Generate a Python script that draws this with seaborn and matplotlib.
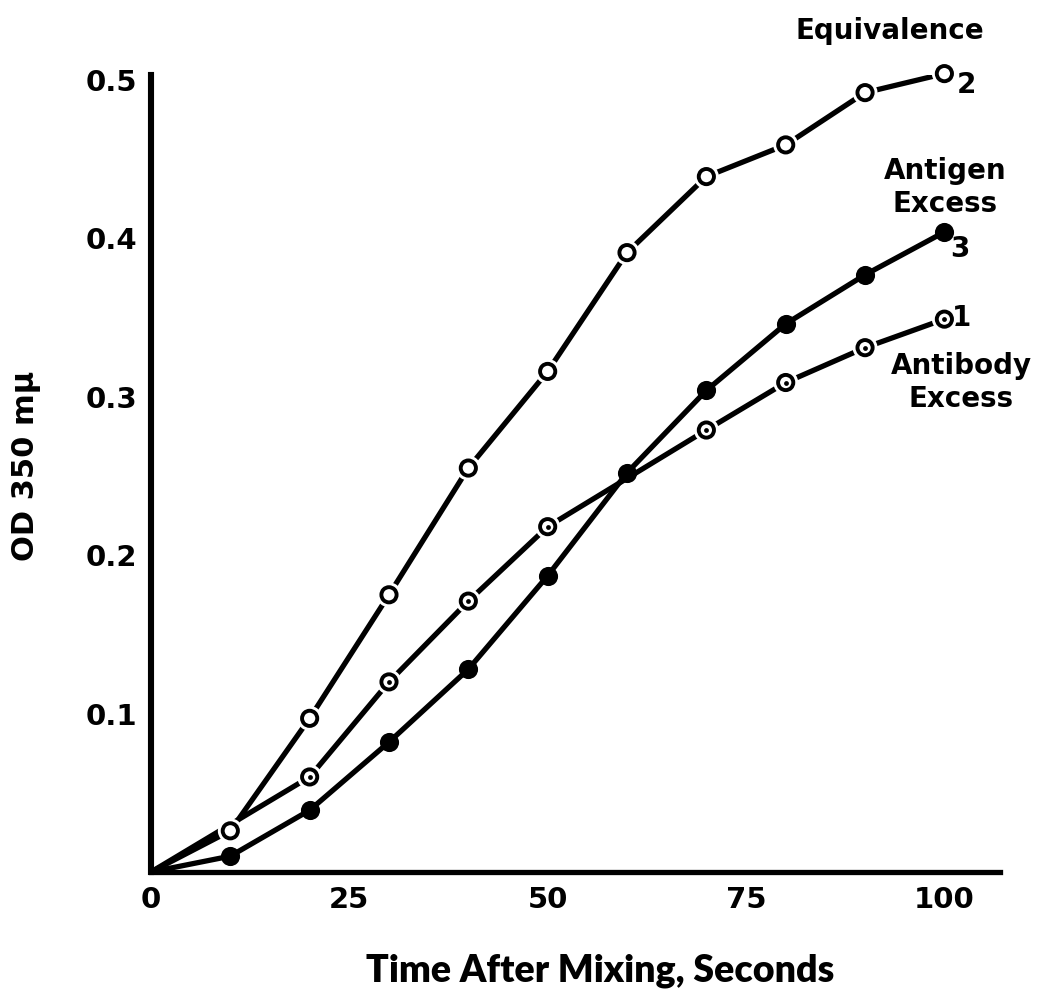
import numpy as np
import pandas as pd
import matplotlib
matplotlib.use("Agg")
import matplotlib.pyplot as plt
import matplotlib.patheffects as pe
import seaborn as sns

# ---- data ----
time_eq = [10, 20, 30, 40, 50, 60, 70, 80, 90, 100]
od_eq = [0.026, 0.097, 0.175, 0.255, 0.316, 0.391, 0.439, 0.459, 0.492, 0.504]

time_ab = [20, 30, 40, 50, 70, 80, 90, 100]
od_ab = [0.060, 0.120, 0.171, 0.218, 0.279, 0.309, 0.331, 0.349]

time_ag = [10, 20, 30, 40, 50, 60, 70, 80, 90, 100]
od_ag = [0.010, 0.039, 0.082, 0.128, 0.187, 0.252, 0.304, 0.346, 0.377, 0.404]

origin_t = [0]
origin_od = [0.0]

x_ticks = [0, 25, 50, 75, 100]
y_ticks = [0.1, 0.2, 0.3, 0.4, 0.5]
y_tick_labels = ["0.1", "0.2", "0.3", "0.4", "0.5"]

sns.set_theme(style="white")
plt.rcParams["font.family"] = ["DejaVu Sans"]

fig = plt.figure(figsize=(10.52, 9.96), dpi=100)
ax = fig.add_axes([0.1435, 0.1245, 0.807, 0.800])

def curve_df(t, od):
    return pd.DataFrame({"t": origin_t + list(t), "od": origin_od + list(od)})

for t, od in [(time_eq, od_eq), (time_ab, od_ab), (time_ag, od_ag)]:
    sns.lineplot(data=curve_df(t, od), x="t", y="od", estimator=None, sort=False,
                 color="black", lw=3.8, ax=ax, solid_joinstyle="round",
                 solid_capstyle="round")

halo = [pe.withStroke(linewidth=7, foreground="white")]
# open circles (equivalence)
sc = ax.scatter(time_eq, od_eq, s=120, facecolor="white", edgecolor="black",
                linewidth=2.8, zorder=5, clip_on=False)
sc.set_path_effects(halo)
# open circles with centre mark (antibody excess)
sc = ax.scatter(time_ab, od_ab, s=120, facecolor="white", edgecolor="black",
                linewidth=2.8, zorder=5, clip_on=False)
sc.set_path_effects(halo)
ax.scatter(time_ab, od_ab, s=12, color="black", zorder=6, linewidth=0, clip_on=False)
# filled circles (antigen excess)
ax.scatter(time_ag, od_ag, s=190, color="black", zorder=5, linewidth=0, clip_on=False)

ax.set_xlim(0, 107)
ax.set_ylim(0, 0.503)
ax.set_xticks(x_ticks)
ax.set_xticklabels([str(v) for v in x_ticks])
ax.set_yticks(y_ticks)
ax.set_yticklabels(y_tick_labels)

for s in ["top", "right"]:
    ax.spines[s].set_visible(False)
ax.spines["left"].set_linewidth(4.4)
ax.spines["bottom"].set_linewidth(3.8)
ax.spines["left"].set_color("black")
ax.spines["bottom"].set_color("black")

ax.tick_params(axis="both", direction="in", length=9, width=2.4, color="black",
               labelsize=21, labelcolor="black")
ax.tick_params(axis="x", pad=10)
ax.tick_params(axis="y", pad=10)
for lab in ax.get_xticklabels() + ax.get_yticklabels():
    lab.set_fontweight("bold")

ax.set_xlabel("Time After Mixing, Seconds", fontsize=27, fontweight="heavy",
              family=["Lato", "DejaVu Sans"], color="black")
ax.xaxis.set_label_coords(0.529, -0.102)
ax.set_ylabel("OD 350 m\u03bc", fontsize=22, fontweight="bold", color="black")
ax.yaxis.set_label_coords(-0.13, 0.51)

tkw = dict(fontsize=20, fontweight="bold", color="black", clip_on=False,
           ha="center", va="center", linespacing=1.2)
ax.text(93.1, 0.531, "Equivalence", **tkw)
ax.text(102.8, 0.497, "2", **tkw)
ax.text(100.1, 0.432, "Antigen\nExcess", **tkw)
ax.text(102.0, 0.393, "3", **tkw)
ax.text(102.2, 0.350, "1", **tkw)
ax.text(102.1, 0.309, "Antibody\nExcess", **tkw)

fig.savefig("out.png", dpi=100, facecolor="white")
